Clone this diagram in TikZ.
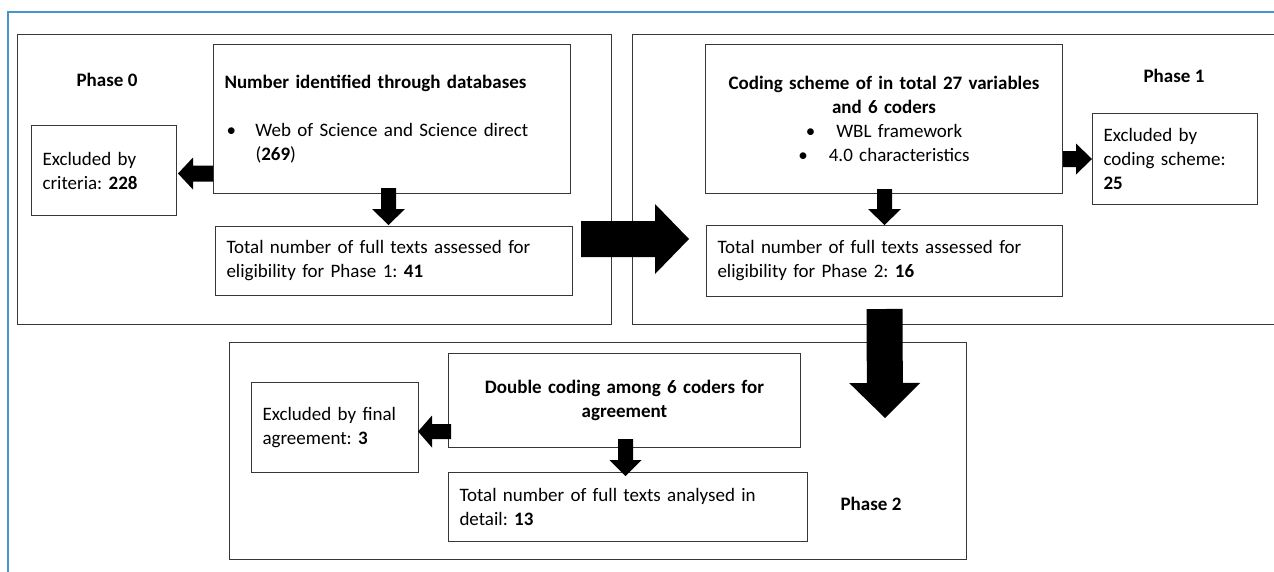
\documentclass[tikz,border=0pt]{standalone}
\usepackage{fontspec}
\setmainfont{Carlito}
\usetikzlibrary{calc}
\frenchspacing
\definecolor{frameblue}{RGB}{70,150,205}
\definecolor{boxline}{RGB}{55,55,55}
\newcommand\blkarrow[5]{%
  \coordinate (blkH) at ($(#2)!#5!(#1)$);
  \fill[black] ($(#1)!#3!90:(#2)$) -- ($(blkH)!#3!90:(#2)$) -- ($(blkH)!#4!90:(#2)$) -- (#2)
    -- ($(blkH)!#4!-90:(#2)$) -- ($(blkH)!#3!-90:(#2)$) -- ($(#1)!#3!-90:(#2)$) -- cycle;}
\tikzset{
  outerbox/.style={draw=boxline, line width=1pt, rectangle, inner sep=0pt, anchor=north west},
  box/.style={draw=boxline, line width=1pt, rectangle, fill=white, inner xsep=11pt, inner ysep=0pt,
    anchor=north west, font=\fontsize{19}{24}\selectfont, align=left},
  cbox/.style={box, align=center},
  phase/.style={font=\fontsize{19}{24}\selectfont\bfseries, inner sep=0pt},
}
\begin{document}
\begin{tikzpicture}[x=1pt,y=-1pt]
\useasboundingbox (0,0) rectangle (1274,571);
\clip (0,0) rectangle (1274,571);
\fill[white] (0,0) rectangle (1274,571);
% blue frame
\draw[frameblue, line width=1.5pt] (8,580) -- (8,12) -- (1290,12);
% outer phase boxes
\node[outerbox, minimum width=594, minimum height=290] (p0) at (17,34) {};
\node[outerbox, minimum width=700, minimum height=290] (p1) at (632,34) {};
\node[outerbox, minimum width=737, minimum height=217] (p2) at (229,342) {};
% phase labels
\node[phase] (lab0) at (107,80) {Phase 0};
\node[phase] (lab1) at (1174,76) {Phase 1};
\node[phase] (lab2) at (871,504) {Phase 2};
% Phase 0
\node[box, text width=335pt, minimum height=149] (db0) at (213,44)
  {\textbf{Number identified through databases}\\ \mbox{}\\
   \hspace*{2pt}\makebox[29pt][l]{•}Web of Science and Science direct\\
   \hspace*{31pt}(\textbf{269})};
\node[box, text width=123pt, minimum height=90] (ex0) at (31,125)
  {Excluded by\\criteria: \textbf{228}};
\node[box, text width=335pt, minimum height=69] (t0) at (215,226)
  {Total number of full texts assessed for\\eligibility for Phase 1: \textbf{41}};
% Phase 1
\node[cbox, text width=335pt, minimum height=149] (db1) at (705,44)
  {\textbf{Coding scheme of in total 27 variables}\\ \textbf{and 6 coders}\\
   •\hspace{21pt}WBL framework\\ •\hspace{21pt}4.0 characteristics};
\node[box, text width=143pt, minimum height=91] (ex1) at (1092,113)
  {Excluded by\\coding scheme:\\\textbf{25}};
\node[box, text width=334pt, minimum height=71] (t1) at (706,225)
  {Total number of full texts assessed for\\eligibility for Phase 2: \textbf{16}};
% Phase 2
\node[box, text width=145pt, minimum height=90] (ex2) at (251,382)
  {Excluded by final\\agreement: \textbf{3}};
\node[cbox, text width=330pt, minimum height=94] (dc) at (448,353)
  {\textbf{Double coding among 6 coders for}\\\textbf{agreement}};
\node[box, text width=337pt, minimum height=69] (t2) at (448,472)
  {Total number of full texts analysed in\\detail: \textbf{13}};
% arrow coordinates
\coordinate (a1e) at ($(ex0.east)+(1,3)$);
\coordinate (a1s) at (db0.west |- a1e);
\coordinate (a2s) at ($(db0.south)+(-3.5,-6)$);
\coordinate (a2e) at ($(a2s |- t0.north)+(0,-1)$);
\coordinate (a3s) at ($(t0.east)+(8,-22)$);
\coordinate (a3e) at ($(t1.west)+(-17,-22)$);
\coordinate (a4e) at (ex1.west);
\coordinate (a4s) at (db1.east |- a4e);
\coordinate (a5s) at ($(db1.south)+(0.5,-5)$);
\coordinate (a5e) at (a5s |- t1.north);
\coordinate (a6s) at ($(t1.south)+(0,12)$);
\coordinate (a6e) at ($(p2.north east)+(-82,76)$);
\coordinate (a7e) at ($(ex2.east)+(-1,4)$);
\coordinate (a7s) at ($(dc.west |- a7e)+(3,0)$);
\coordinate (a8s) at ($(dc.south)+(1,-9)$);
\coordinate (a8e) at ($(a8s |- t2.north)+(0,4)$);
% block arrows
\blkarrow{a1s}{a1e}{8pt}{16pt}{15pt}
\blkarrow{a2s}{a2e}{7.5pt}{16.5pt}{16pt}
\blkarrow{a3s}{a3e}{18pt}{35pt}{34pt}
\blkarrow{a4s}{a4e}{8pt}{15.5pt}{16pt}
\blkarrow{a5s}{a5e}{7.5pt}{16.5pt}{16pt}
\blkarrow{a6s}{a6e}{18pt}{35.5pt}{35pt}
\blkarrow{a7s}{a7e}{7.5pt}{16pt}{14pt}
\blkarrow{a8s}{a8e}{7.5pt}{16pt}{16pt}
\end{tikzpicture}
\end{document}
